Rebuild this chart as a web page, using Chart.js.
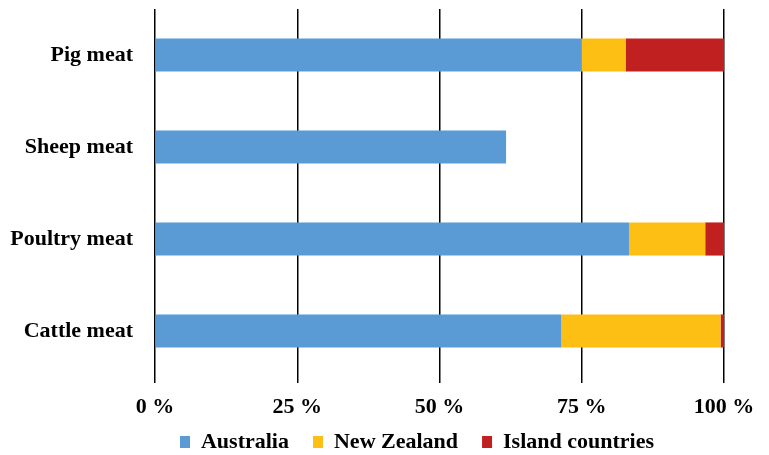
<!DOCTYPE html>
<html>
<head>
<meta charset="utf-8">
<script src="https://cdn.jsdelivr.net/npm/chart.js@4/dist/chart.umd.min.js"></script>
<style>
  html, body { margin: 0; padding: 0; background: #fff; }
  #wrap { width: 769px; height: 455px; position: relative; }
</style>
</head>
<body>
<div id="wrap"><canvas id="meatChart"></canvas></div>
<script>
// shares of meat production by region, in percent
const categories = ['Pig meat', 'Sheep meat', 'Poultry meat', 'Cattle meat'];
const australia = [74.9, 61.7, 83.3, 71.4];
const newZealand = [7.8, 0, 13.4, 28.0];
const islandCountries = [17.3, 0, 3.3, 0.6];
const xTicks = [0, 25, 50, 75, 100];

document.addEventListener('DOMContentLoaded', () => {
  const font = { family: '"Liberation Serif", "DejaVu Serif", serif', size: 22, weight: 'bold' };

  // move the legend a bit right and up, as in the original
  const legendShift = {
    id: 'legendShift',
    afterLayout(chart) {
      const lg = chart.legend;
      if (!lg) return;
      lg.left += 55;
      lg.right += 55;
      lg.top -= 13;
      lg.height += 13;
    }
  };

  const chart = new Chart(document.getElementById('meatChart'), {
    type: 'bar',
    data: {
      labels: categories,
      datasets: [
        { label: 'Australia', data: australia, backgroundColor: '#5b9bd5' },
        { label: 'New Zealand', data: newZealand, backgroundColor: '#fdbf13' },
        { label: 'Island countries', data: islandCountries, backgroundColor: '#c0201f' }
      ]
    },
    options: {
      indexAxis: 'y',
      responsive: true,
      maintainAspectRatio: false,
      animation: false,
      layout: { padding: { top: 9, right: 45, left: 0, bottom: 0 } },
      datasets: { bar: { categoryPercentage: 0.36, barPercentage: 1 } },
      scales: {
        x: {
          stacked: true,
          min: 0,
          max: 100,
          afterBuildTicks: s => { s.ticks = xTicks.map(v => ({ value: v })); },
          afterFit: s => { s.height = 43; },
          grid: { color: '#000', lineWidth: 1.5, tickLength: 6, tickColor: '#000' },
          border: { display: false },
          ticks: { color: '#000', font, padding: 11, callback: v => v + ' %' }
        },
        y: {
          stacked: true,
          afterFit: s => { s.width = 155; s.paddingTop = 0; s.paddingBottom = 0; },
          grid: { display: false, tickLength: 0 },
          border: { display: false },
          ticks: { color: '#000', font, padding: 22 }
        }
      },
      plugins: {
        legend: {
          position: 'bottom',
          labels: { color: '#000', font, boxWidth: 10, boxHeight: 12, padding: 24 }
        },
        tooltip: { enabled: false }
      }
    },
    plugins: [legendShift]
  });

  // keep the legend box short so the plot keeps its height
  const lg = chart.legend;
  const fit = lg.fit.bind(lg);
  lg.fit = function () { fit(); this.height = 35; };
  chart.update();
});
</script>
</body>
</html>
